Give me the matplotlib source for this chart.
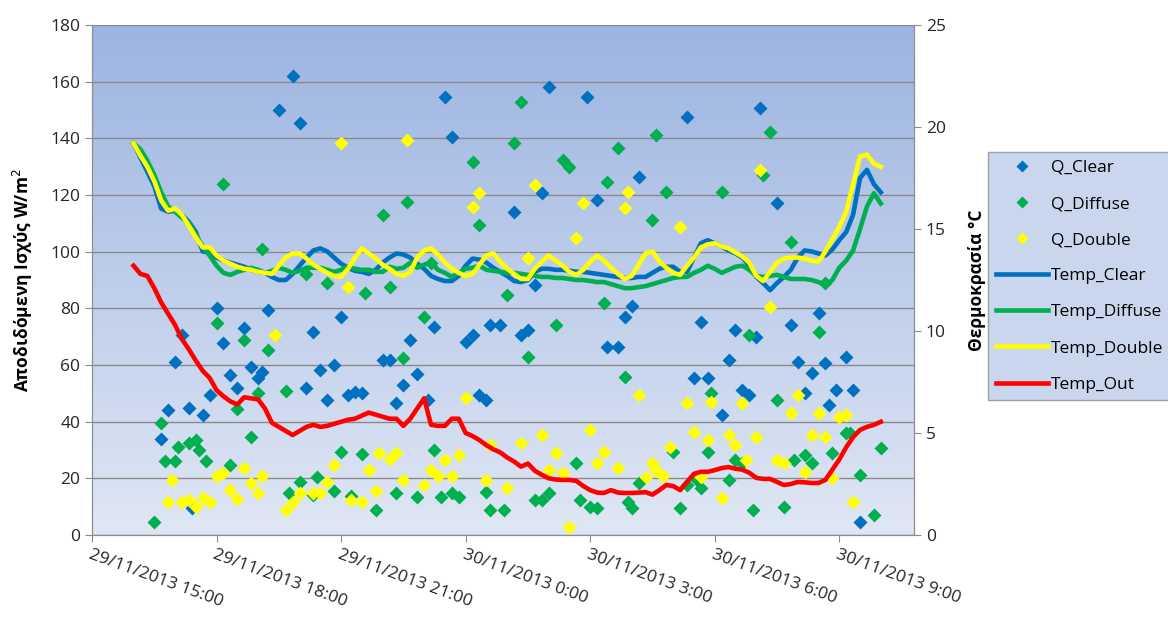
import numpy as np
import pandas as pd
import matplotlib
matplotlib.use("Agg")
import matplotlib.pyplot as plt
from matplotlib.ticker import MultipleLocator, FuncFormatter
import matplotlib.dates as mdates

plt.rcParams['font.family'] = ['Open Sans', 'DejaVu Sans']

t0 = pd.Timestamp('2013-11-29 15:00')

# temperatures every 10 minutes, 29/11 16:00 -> 30/11 10:00
temp_clear = [19.2, 18.5, 17.8, 17.1, 16.0, 15.85, 15.9, 15.7, 15.35, 14.85,
              13.9, 13.85, 13.6, 13.45, 13.35, 13.25, 13.15, 13.0, 12.9, 12.85,
              12.65, 12.5, 12.5, 12.8, 13.2, 13.6, 13.95, 14.05, 13.9, 13.6,
              13.3, 13.1, 12.95, 12.9, 12.8, 13.0, 13.35, 13.6, 13.8, 13.75,
              13.6, 13.3, 13.05, 12.7, 12.55, 12.45, 12.45, 12.7, 13.2, 13.55,
              13.5, 13.35, 13.1, 12.9, 12.7, 12.45, 12.4, 12.5, 12.9, 13.05,
              13.05, 13.0, 13.0, 12.95, 12.9, 12.9, 12.85, 12.8, 12.75, 12.7,
              12.65, 12.6, 12.6, 12.65, 12.65, 12.85, 13.05, 13.15, 13.15, 12.9,
              12.9, 13.6, 14.3, 14.45, 14.3, 14.15, 13.95, 13.8, 13.6, 13.2,
              12.65, 12.35, 12.0, 12.35, 12.65, 13.0, 13.6, 13.95, 13.9, 13.8,
              13.7, 14.0, 14.45, 14.85, 15.7, 17.5, 17.9, 17.2, 16.8]
temp_diffuse = [19.2, 18.9, 18.35, 17.65, 16.8, 16.1, 15.85, 15.55, 15.3, 14.7,
                14.15, 13.7, 13.2, 12.85, 12.75, 12.9, 13.0, 13.1, 13.0, 12.85,
                12.95, 13.1, 13.0, 12.85, 12.95, 13.1, 13.1, 13.1, 13.0, 12.9,
                13.0, 13.15, 13.05, 13.0, 13.0, 12.9, 12.9, 13.15, 13.05, 13.1,
                13.35, 13.1, 13.25, 13.35, 13.0, 12.85, 12.65, 12.85, 13.05, 13.1,
                13.2, 13.0, 12.95, 12.9, 12.85, 12.85, 12.8, 12.75, 12.7, 12.65,
                12.65, 12.6, 12.6, 12.55, 12.5, 12.5, 12.45, 12.4, 12.4, 12.3,
                12.2, 12.1, 12.1, 12.15, 12.2, 12.3, 12.4, 12.5, 12.6, 12.65,
                12.65, 12.85, 13.0, 13.2, 13.05, 12.85, 13.0, 13.15, 13.2, 13.0,
                12.7, 12.65, 12.7, 12.75, 12.65, 12.55, 12.55, 12.55, 12.5, 12.4,
                12.25, 12.5, 13.1, 13.45, 13.95, 15.0, 16.1, 16.75, 16.25]
temp_double = [19.2, 18.6, 18.05, 17.35, 16.4, 15.9, 16.0, 15.7, 15.15, 14.6,
               14.1, 14.1, 13.7, 13.45, 13.3, 13.15, 13.05, 13.0, 12.9, 12.85,
               12.8, 13.2, 13.6, 13.8, 13.8, 13.55, 13.25, 13.05, 12.85, 12.7,
               12.65, 13.05, 13.6, 14.05, 13.8, 13.55, 13.25, 13.05, 12.8, 12.7,
               12.9, 13.6, 13.95, 14.05, 13.75, 13.35, 13.05, 12.85, 12.7, 12.8,
               13.25, 13.7, 13.8, 13.4, 13.05, 12.8, 12.55, 12.55, 13.05, 13.4,
               13.7, 13.45, 13.2, 12.9, 12.75, 13.0, 13.4, 13.7, 13.45, 13.1,
               12.8, 12.55, 12.7, 13.25, 13.8, 13.9, 13.4, 13.1, 12.85, 12.75,
               13.2, 13.6, 14.1, 14.25, 14.3, 14.15, 14.05, 13.85, 13.65, 13.35,
               12.7, 12.45, 12.9, 13.35, 13.55, 13.6, 13.6, 13.55, 13.45, 13.4,
               13.9, 14.5, 15.1, 15.85, 17.2, 18.55, 18.65, 18.2, 18.05]
temp_out = [13.2, 12.8, 12.7, 12.1, 11.4, 10.85, 10.3, 9.6, 9.1, 8.55,
            8.05, 7.7, 7.1, 6.8, 6.55, 6.4, 6.75, 6.7, 6.65, 6.2,
            5.5, 5.3, 5.1, 4.9, 5.1, 5.3, 5.4, 5.3, 5.35, 5.45,
            5.55, 5.65, 5.7, 5.85, 6.0, 5.9, 5.8, 5.7, 5.7, 5.35,
            5.7, 6.2, 6.7, 5.4, 5.35, 5.35, 5.7, 5.7, 5.0, 4.85,
            4.65, 4.4, 4.2, 4.05, 3.8, 3.6, 3.35, 3.5, 3.15, 2.95,
            2.78, 2.72, 2.7, 2.7, 2.65, 2.4, 2.2, 2.08, 2.06, 2.2,
            2.08, 2.06, 2.06, 2.08, 2.1, 1.98, 2.2, 2.45, 2.4, 2.2,
            2.6, 3.0, 3.1, 3.1, 3.18, 3.28, 3.33, 3.25, 3.2, 3.05,
            2.8, 2.75, 2.75, 2.6, 2.45, 2.5, 2.6, 2.58, 2.55, 2.55,
            2.7, 3.2, 3.7, 4.3, 4.8, 5.15, 5.3, 5.4, 5.55]

# delivered power, minutes after 29/11 15:00
clear_min = [100, 110, 120, 130, 140, 145, 160, 170, 180, 190, 200, 210, 220, 230, 240,
             245, 255, 270, 290, 300, 310, 320, 330, 340, 350, 360, 370, 380, 390, 420,
             430, 440, 450, 460, 470, 485, 495, 510, 520, 540, 550, 560, 570, 575, 590,
             610, 620, 630, 640, 650, 660, 715, 730, 745, 760, 770, 780, 790, 860, 870,
             880, 890, 910, 920, 930, 940, 950, 960, 965, 990, 1010, 1020, 1030, 1040,
             1050, 1060, 1065, 1075, 1090, 1100, 1110]
q_clear = [34, 44, 61, 70.6, 45, 9.5, 42.4, 49.4, 80, 67.8, 56.5, 52, 73, 59.3, 55.4,
           57.5, 79.4, 150, 162, 145.4, 52, 71.7, 58.2, 47.6, 60, 77, 49.4, 50.5, 50, 61.8,
           61.8, 46.6, 53, 68.8, 57, 47.6, 73.4, 154.6, 140.5, 68, 70.6, 49.4, 47.6, 74, 74,
           114, 70.6, 72.4, 88.2, 120.7, 158, 154.6, 118.2, 66.4, 66.4, 77, 81, 126.4, 147.5, 55.4,
           75.2, 55.4, 42.4, 61.8, 72.4, 51.2, 49.4, 70, 150.7, 117.2, 74, 61, 50.1, 57.2,
           78.4, 60.7, 45.9, 51.2, 62.8, 51.2, 4.6]

diffuse_min = [90, 100, 105, 120, 125, 140, 150, 155, 165, 180, 190, 200, 210, 220, 230,
               240, 245, 255, 280, 285, 300, 310, 320, 325, 340, 350, 360, 375, 390, 395,
               410, 420, 430, 440, 450, 455, 470, 480, 490, 495, 505, 520, 530, 550, 560,
               570, 575, 595, 600, 610, 620, 630, 640, 650, 660, 670, 680, 690, 700, 705,
               720, 730, 740, 745, 760, 770, 775, 780, 790, 810, 815, 830, 840, 850, 860,
               875, 880, 890, 895, 910, 920, 930, 940, 950, 955, 970, 980, 990, 1000, 1010,
               1015, 1030, 1040, 1050, 1060, 1070, 1090, 1095, 1110, 1130, 1140]
q_diffuse = [4.6, 39.5, 26, 26, 31, 32.5, 33.5, 30, 26, 75, 124, 24.7, 44.5, 68.8, 34.6,
             50, 101, 65.3, 51, 14.8, 18.7, 92, 14.1, 20.5, 89, 15.5, 29.3, 13.8, 28.7, 85.5,
             8.8, 113, 87.5, 14.8, 62.5, 117.5, 13.4, 77, 96, 30, 13.4, 14.8, 13.4, 131.7, 109.4,
             15.2, 8.8, 8.8, 84.7, 138.4, 152.8, 62.8, 12.4, 12.4, 14.8, 74, 132.4, 130, 25.4, 12.4,
             9.9, 9.5, 81.9, 124.6, 136.6, 55.8, 11.7, 9.5, 18.4, 111.2, 141.2, 121, 29.3, 9.5, 17.7,
             19.4, 16.6, 29.3, 50.1, 121, 19.4, 26.5, 25.4, 70.6, 8.8, 127, 142.2, 47.6, 9.9, 103.4,
             26.5, 28.2, 25.4, 71.7, 89, 28.9, 36, 36, 21.2, 7, 30.7]

double_min = [110, 115, 130, 140, 150, 160, 170, 180, 190, 200, 210, 220, 230, 240, 245,
              265, 280, 290, 300, 320, 330, 340, 350, 360, 370, 375, 390, 400, 410, 415,
              430, 440, 450, 455, 480, 490, 500, 510, 520, 530, 540, 550, 560, 570, 575,
              600, 620, 630, 640, 650, 660, 670, 680, 690, 700, 710, 720, 730, 740, 760,
              770, 775, 790, 800, 810, 815, 825, 835, 850, 860, 870, 880, 890, 895, 910,
              920, 930, 940, 945, 960, 965, 980, 990, 1000, 1010, 1020, 1030, 1040, 1050, 1060,
              1070, 1080, 1090, 1100]
q_double = [11.7, 19.4, 11.7, 12.4, 10, 13, 11.7, 21, 21.8, 15.9, 12.8, 23.6, 18.4, 14.8, 21,
            70.6, 8.8, 11.8, 14.8, 14.8, 14.8, 18.6, 24.7, 138.4, 87.5, 12.4, 11.5, 23, 15.5, 29,
            27, 29, 19.4, 139.4, 17.7, 23, 21, 26.5, 21, 28.2, 48.3, 115.8, 120.7, 19.4, 31.8,
            16.6, 32.5, 97.8, 123.5, 35.3, 23, 28.9, 21.9, 2.8, 104.8, 117.2, 37, 25.4, 29.3, 23.6,
            115.4, 121, 49.4, 20.5, 25.4, 23, 21, 31.1, 108.7, 46.6, 36.4, 20.5, 33.5, 47, 13,
            35.3, 31.8, 46.6, 26.5, 34.6, 128.8, 80.5, 26.5, 25.4, 43, 49.4, 22.2, 35.3, 43, 34.6,
            20.1, 41.6, 42.4, 11.7]

tick_hours = [0, 3, 6, 9, 12, 15, 18]

line_times = t0 + pd.to_timedelta(60 + 10 * np.arange(len(temp_out)), unit='min')


def at(minutes):
    return t0 + pd.to_timedelta(minutes, unit='min')


fig = plt.figure(figsize=(11.68, 6.2), dpi=100)
rect = [92 / 1168, 1 - 535 / 620, (914 - 92) / 1168, (535 - 25) / 620]

# blue gradient behind the plot area
bg = fig.add_axes(rect, zorder=0)
top = np.array([156, 180, 225]) / 255
bot = np.array([224, 231, 244]) / 255
g = np.linspace(0, 1, 256)[:, None]
grad = top[None, :] * (1 - g) + bot[None, :] * g
bg.imshow(grad[:, None, :], aspect='auto', extent=[0, 1, 0, 1])
bg.set_axis_off()

ax = fig.add_axes(rect, zorder=1)
ax.patch.set_alpha(0)
ax2 = ax.twinx()

ms = 7.5
s1 = ax.plot(at(clear_min), q_clear, 'D', color='#0070C0', ms=ms, mec='none', label='Q_Clear')
s2 = ax.plot(at(diffuse_min), q_diffuse, 'D', color='#00B050', ms=ms, mec='none', label='Q_Diffuse')
s3 = ax.plot(at(double_min), q_double, 'D', color='#FFFF00', ms=ms, mec='none', label='Q_Double')

lw = 3.3
l1 = ax2.plot(line_times, temp_clear, color='#0070C0', lw=lw, label='Temp_Clear')
l2 = ax2.plot(line_times, temp_diffuse, color='#00B050', lw=lw, label='Temp_Diffuse')
l3 = ax2.plot(line_times, temp_double, color='#FFFF00', lw=lw, label='Temp_Double')
l4 = ax2.plot(line_times, temp_out, color='#FF0000', lw=lw, label='Temp_Out')

ax.set_ylim(0, 180)
ax.yaxis.set_major_locator(MultipleLocator(20))
ax2.set_ylim(0, 25)
ax2.yaxis.set_major_locator(MultipleLocator(5))
ax.set_xlim(t0, t0 + pd.Timedelta(minutes=1188))
ax.set_xticks([t0 + pd.Timedelta(hours=h) for h in tick_hours])


def fmt_date(x, pos):
    d = mdates.num2date(x)
    return f"{d.day}/{d.month}/{d.year} {d.hour}:{d.minute:02d}"


ax.xaxis.set_major_formatter(FuncFormatter(fmt_date))
ax.grid(axis='y', color='#8A8A8A', lw=1)
ax.set_axisbelow(True)

gray = '#8C8C8C'
for a in (ax, ax2):
    for sp in a.spines.values():
        sp.set_color(gray)
    a.tick_params(color=gray, length=5, labelsize=12.5, labelcolor='#262626')
ax.spines['top'].set_visible(False)
ax2.spines['top'].set_visible(False)

for lab in ax.get_xticklabels():
    lab.set_rotation(-20)
    lab.set_ha('left')
    lab.set_va('top')
    lab.set_rotation_mode('anchor')

ax.set_ylabel('Αποδιδόμενη Ισχύς W/m$^2$', fontsize=12.5, fontweight='bold', labelpad=11)
ax2.set_ylabel('Θερμοκρασία °C', fontsize=12.5, fontweight='bold', labelpad=16)

handles = s1 + s2 + s3 + l1 + l2 + l3 + l4
leg = fig.legend(handles=handles, loc='upper left',
                 bbox_to_anchor=(988 / 1168, 1 - 152 / 620),
                 fontsize=12.5, labelspacing=1.15, handlelength=3.0,
                 handletextpad=0.2, borderpad=0.45, borderaxespad=0,
                 fancybox=False, markerscale=0.75, framealpha=1)
leg.get_frame().set_facecolor('#CAD6EE')
leg.get_frame().set_edgecolor('#A0A0A0')

fig.savefig('out.png', dpi=100)
